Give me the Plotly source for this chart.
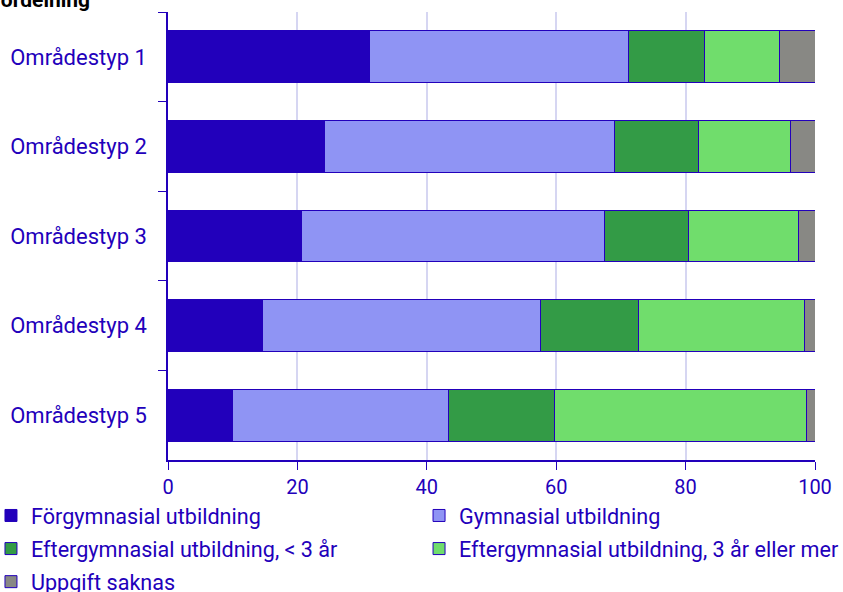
import plotly.graph_objects as go

areas = ["Områdestyp 1", "Områdestyp 2", "Områdestyp 3", "Områdestyp 4", "Områdestyp 5"]

series_names = [
    "Förgymnasial utbildning",
    "Gymnasial utbildning",
    "Eftergymnasial utbildning, < 3 år",
    "Eftergymnasial utbildning, 3 år eller mer",
    "Uppgift saknas",
]

forgymnasial = [31.2, 24.2, 20.7, 14.6, 10.0]
gymnasial = [40.0, 44.8, 46.7, 42.9, 33.3]
efter_kort = [11.7, 13.0, 13.0, 15.2, 16.5]
efter_lang = [11.6, 14.2, 17.1, 25.6, 38.9]
saknas = [5.5, 3.8, 2.5, 1.7, 1.3]

colors = ["#2200bb", "#8f94f4", "#339b46", "#70dd6c", "#888884"]
# two-column legend like the original: left column / right column
legend_ref = ["legend", "legend2", "legend", "legend2", "legend"]
axis_blue = "#2200bb"

fig = go.Figure()
for i, (name, vals, col) in enumerate(
    zip(series_names, [forgymnasial, gymnasial, efter_kort, efter_lang, saknas], colors)
):
    fig.add_trace(
        go.Bar(
            y=areas,
            x=vals,
            name=name,
            orientation="h",
            legend=legend_ref[i],
            legendgroup=f"g{i}",
            marker=dict(color=col, line=dict(color=axis_blue, width=1)),
        )
    )

legend_style = dict(
    orientation="v",
    yanchor="top",
    xanchor="left",
    y=-0.078,
    traceorder="grouped",
    tracegroupgap=2,
    font=dict(family="Roboto", size=21.6, color=axis_blue),
    bgcolor="rgba(0,0,0,0)",
    itemclick=False,
)

fig.update_layout(
    barmode="stack",
    bargap=0.42,
    width=843,
    height=592,
    margin=dict(l=168, r=28, t=12, b=132, autoexpand=False),
    paper_bgcolor="white",
    plot_bgcolor="white",
    font=dict(family="Roboto", size=21, color=axis_blue),
    showlegend=True,
    legend=dict(x=-0.2736, **legend_style),
    legend2=dict(x=0.388, **legend_style),
    annotations=[
        dict(
            text="<b>Procentuell fördelning</b>",
            xref="paper",
            yref="paper",
            x=-0.1175,
            y=1.0,
            xanchor="right",
            yanchor="bottom",
            yshift=-2,
            showarrow=False,
            font=dict(family="Roboto", size=21, color="black"),
        )
    ],
)

fig.update_xaxes(
    range=[0, 100],
    tickvals=[0, 20, 40, 60, 80, 100],
    showgrid=True,
    gridcolor="#d6d6f2",
    gridwidth=2,
    showline=True,
    linecolor=axis_blue,
    linewidth=1.5,
    ticks="outside",
    ticklen=8,
    tickcolor=axis_blue,
    tickfont=dict(size=20, color=axis_blue),
    zeroline=False,
)

fig.update_yaxes(
    autorange="reversed",
    showline=True,
    linecolor=axis_blue,
    linewidth=1.5,
    ticks="outside",
    tickson="boundaries",
    ticklen=8,
    tickcolor=axis_blue,
    tickfont=dict(size=22, color=axis_blue),
    ticklabelstandoff=15,
    showgrid=False,
)

# the original chart sits flush with the window edge, so drop the page margin
fig.write_html(
    "out.html",
    config={"displayModeBar": False},
    post_script="document.body.style.margin = '0';",
)
